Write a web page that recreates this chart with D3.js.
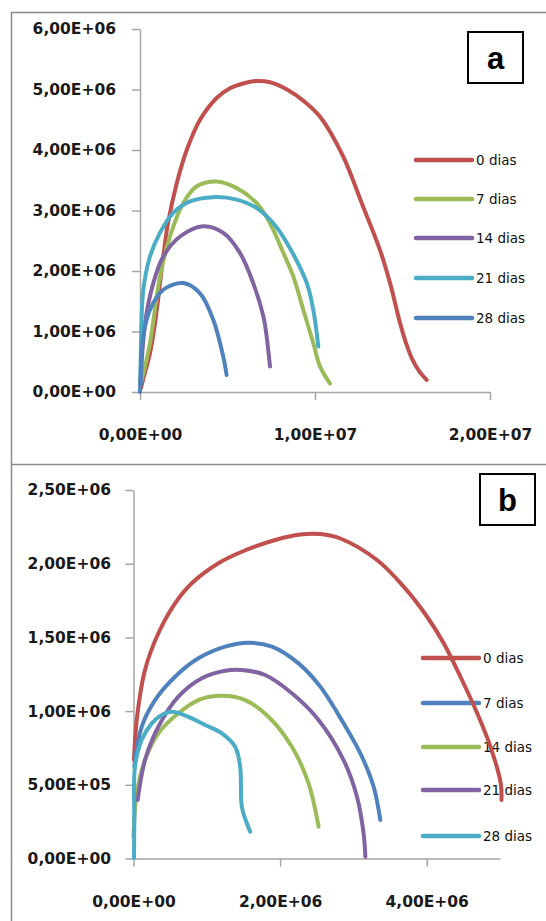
<!DOCTYPE html>
<html>
<head>
<meta charset="utf-8">
<script src="https://cdn.jsdelivr.net/npm/d3@7"></script>
<style>
  body { margin: 0; background: #fff; }
  svg { display: block; }
</style>
</head>
<body>
<div id="chart"></div>
<script>
const width = 546;
const height = 921;

// legend labels
const days = ['0 dias', '7 dias', '14 dias', '21 dias', '28 dias'];

// tick values (in millions)
const ticksAx = [0, 10, 20];
const ticksAy = [0, 1, 2, 3, 4, 5, 6];
const ticksBx = [0, 2, 4];
const ticksBy = [0, 0.5, 1, 1.5, 2, 2.5];

// panel a series, [x, y] in millions
const a0 = [[0.06, 0.07], [0.17, 0.2], [0.57, 0.64], [0.86, 1.14], [1.33, 2.24], [1.6, 2.79], [2.1, 3.45],
    [2.67, 4.0], [3.43, 4.5], [4.38, 4.86], [5.14, 5.02], [5.89, 5.1], [6.63, 5.14], [7.43, 5.12],
    [8.4, 5.0], [9.4, 4.8], [10.29, 4.55], [11.6, 3.9], [12.7, 3.1], [13.71, 2.35], [14.29, 1.8],
    [14.86, 1.14], [15.2, 0.81], [15.54, 0.55], [15.94, 0.35], [16.38, 0.2]];
const a7 = [[0.1, 0.2], [0.57, 0.81], [1.14, 1.91], [1.71, 2.57], [2.47, 3.12], [3.24, 3.4], [4.38, 3.48],
    [5.53, 3.37], [6.67, 3.12], [7.43, 2.79], [8.19, 2.3], [8.76, 1.91], [9.33, 1.36], [9.9, 0.81],
    [10.29, 0.42], [10.86, 0.14]];
const a14 = [[0.03, 0.12], [0.29, 1.14], [0.76, 1.8], [1.33, 2.24], [2.29, 2.57], [3.62, 2.74], [4.76, 2.63],
    [5.71, 2.3], [6.47, 1.8], [7.05, 1.25], [7.24, 0.91], [7.43, 0.42]];
const a21 = [[0.03, 0.12], [0.06, 0.86], [0.19, 1.69], [0.57, 2.24], [1.14, 2.63], [1.9, 2.96], [2.86, 3.15],
    [4.19, 3.22], [5.53, 3.18], [6.67, 3.04], [7.62, 2.79], [8.38, 2.47], [9.53, 1.8], [9.9, 1.36], [10.19, 0.75]];
const a28 = [[0, 0], [0.19, 0.92], [0.57, 1.36], [1.33, 1.69], [2.47, 1.8], [3.43, 1.63], [4.19, 1.19],
    [4.76, 0.58], [4.95, 0.28]];

// panel b series, [x, y] in millions
const b0 = [[0.007, 0.668], [0.044, 0.94], [0.157, 1.279], [0.339, 1.528], [0.567, 1.731], [0.795, 1.867],
    [1.158, 2.003], [1.478, 2.081], [1.933, 2.161], [2.275, 2.198], [2.548, 2.201], [2.821, 2.171],
    [3.322, 2.025], [3.686, 1.844], [4.005, 1.64], [4.232, 1.46], [4.46, 1.233], [4.689, 0.985],
    [4.87, 0.758], [5.01, 0.51], [5.02, 0.397]];
const b7 = [[0.011, 0.623], [0.112, 0.894], [0.294, 1.075], [0.567, 1.233], [0.885, 1.358], [1.25, 1.437],
    [1.568, 1.464], [1.888, 1.437], [2.251, 1.324], [2.548, 1.166], [2.866, 0.917],
    [3.094, 0.714], [3.276, 0.487], [3.367, 0.261]];
const b14 = [[0.0, 0.148], [0.044, 0.442], [0.157, 0.668], [0.339, 0.849], [0.612, 0.985], [0.885, 1.075],
    [1.205, 1.104], [1.523, 1.075], [1.841, 0.962], [2.161, 0.758], [2.388, 0.51], [2.525, 0.216]];
const b21 = [[0.057, 0.397], [0.157, 0.668], [0.339, 0.894], [0.612, 1.098], [0.932, 1.223], [1.25, 1.274],
    [1.478, 1.279], [1.796, 1.245], [2.161, 1.121], [2.525, 0.94], [2.866, 0.668],
    [3.049, 0.419], [3.139, 0.171], [3.163, 0.012]];
const b28 = [[0.007, 0.003], [0.011, 0.261], [0.02, 0.623], [0.112, 0.804], [0.249, 0.917], [0.385, 0.974],
    [0.526, 0.996], [0.795, 0.951], [0.977, 0.906], [1.205, 0.849], [1.387, 0.758], [1.455, 0.623],
    [1.478, 0.351], [1.546, 0.239], [1.592, 0.182]];

const red = '#c0504d', green = '#9bbb59', purple = '#8064a2', cyan = '#4bacc6', blue = '#4f81bd';

// excel style "1,00E+07"
const fmtE = v => {
    const s = (v * 1e6).toExponential(2);
    const [m, e] = s.split('e');
    const n = Math.abs(+e);
    return `${m.replace('.', ',')}E${+e < 0 ? '-' : '+'}${n < 10 ? '0' + n : n}`;
};

const svg = d3.select('#chart').append('svg')
    .attr('width', width)
    .attr('height', height);

// panel frames
svg.append('path')
    .attr('d', 'M11.5,921 V12.5 H546')
    .attr('fill', 'none').attr('stroke', '#8a8a8a').attr('stroke-width', 1.5);
svg.append('path')
    .attr('d', 'M11.5,464.5 H546')
    .attr('fill', 'none').attr('stroke', '#8a8a8a').attr('stroke-width', 1.5);

const drawPanel = cfg => {
    const g = svg.append('g');
    const x = d3.scaleLinear().domain(cfg.xDomain).range(cfg.xRange);
    const y = d3.scaleLinear().domain(cfg.yDomain).range(cfg.yRange);

    const yAxis = g.append('g')
        .attr('transform', `translate(${cfg.xRange[0]},0)`)
        .call(d3.axisLeft(y).tickValues(cfg.yTicks).tickFormat(fmtE).tickSize(8).tickSizeOuter(0).tickPadding(cfg.yPad));
    const xAxis = g.append('g')
        .attr('transform', `translate(0,${cfg.yRange[0]})`)
        .call(d3.axisBottom(x).tickValues(cfg.xTicks).tickFormat(fmtE).tickSize(8).tickSizeOuter(0).tickPadding(29));

    [xAxis, yAxis].forEach(ax => {
        ax.select('.domain').attr('stroke', '#a6a6a6').attr('stroke-width', 1.5);
        ax.selectAll('.tick line').attr('stroke', '#a6a6a6').attr('stroke-width', 1.5);
        ax.selectAll('text')
            .attr('fill', '#1a1a1a')
            .style('font', 'bold 15.5px "DejaVu Sans", sans-serif');
    });

    // legend (under the curves)
    const leg = g.append('g');
    cfg.series.forEach((s, i) => {
        const ly = cfg.legY[i];
        leg.append('line')
            .attr('x1', cfg.legX).attr('x2', cfg.legX + 56)
            .attr('y1', ly).attr('y2', ly)
            .attr('stroke', s.color).attr('stroke-width', 4.5).attr('stroke-linecap', 'round');
        leg.append('text')
            .attr('x', cfg.legX + 60).attr('y', ly).attr('dy', '0.35em')
            .attr('fill', '#111')
            .style('font', '13.5px "DejaVu Sans", sans-serif')
            .text(days[i]);
    });

    const line = d3.line()
        .x(d => x(d[0]))
        .y(d => y(d[1]))
        .curve(d3.curveCatmullRom.alpha(0.5));

    g.append('g').selectAll('path')
        .data(cfg.series)
        .join('path')
        .attr('d', d => line(d.values))
        .attr('fill', 'none')
        .attr('stroke', d => d.color)
        .attr('stroke-width', 4)
        .attr('stroke-linecap', 'round')
        .attr('stroke-linejoin', 'round');

    // panel letter
    const b = cfg.box;
    g.append('rect')
        .attr('x', b[0]).attr('y', b[1]).attr('width', 55).attr('height', 51)
        .attr('fill', '#fff').attr('stroke', '#000').attr('stroke-width', 2);
    g.append('text')
        .attr('x', b[0] + 27.5).attr('y', b[1] + 26).attr('dy', '0.35em')
        .attr('text-anchor', 'middle')
        .style('font', 'bold 31px "Liberation Sans", Arial, sans-serif')
        .text(cfg.letter);
};

drawPanel({
    xDomain: [0, 20], xRange: [140, 490],
    yDomain: [0, 6], yRange: [392, 29],
    xTicks: ticksAx, yTicks: ticksAy, yPad: 16,
    legX: 416, legY: [160, 199, 238, 278, 318],
    box: [468, 32], letter: 'a',
    series: [
        { values: a0, color: red },
        { values: a7, color: green },
        { values: a14, color: purple },
        { values: a21, color: cyan },
        { values: a28, color: blue },
    ],
});

drawPanel({
    xDomain: [0, 5], xRange: [133.5, 500],
    yDomain: [0, 2.5], yRange: [858.5, 490],
    xTicks: ticksBx, yTicks: ticksBy, yPad: 14.5,
    legX: 423, legY: [658, 703, 747, 790, 836],
    box: [480, 474], letter: 'b',
    series: [
        { values: b0, color: red },
        { values: b7, color: blue },
        { values: b14, color: green },
        { values: b21, color: purple },
        { values: b28, color: cyan },
    ],
});
</script>
</body>
</html>
